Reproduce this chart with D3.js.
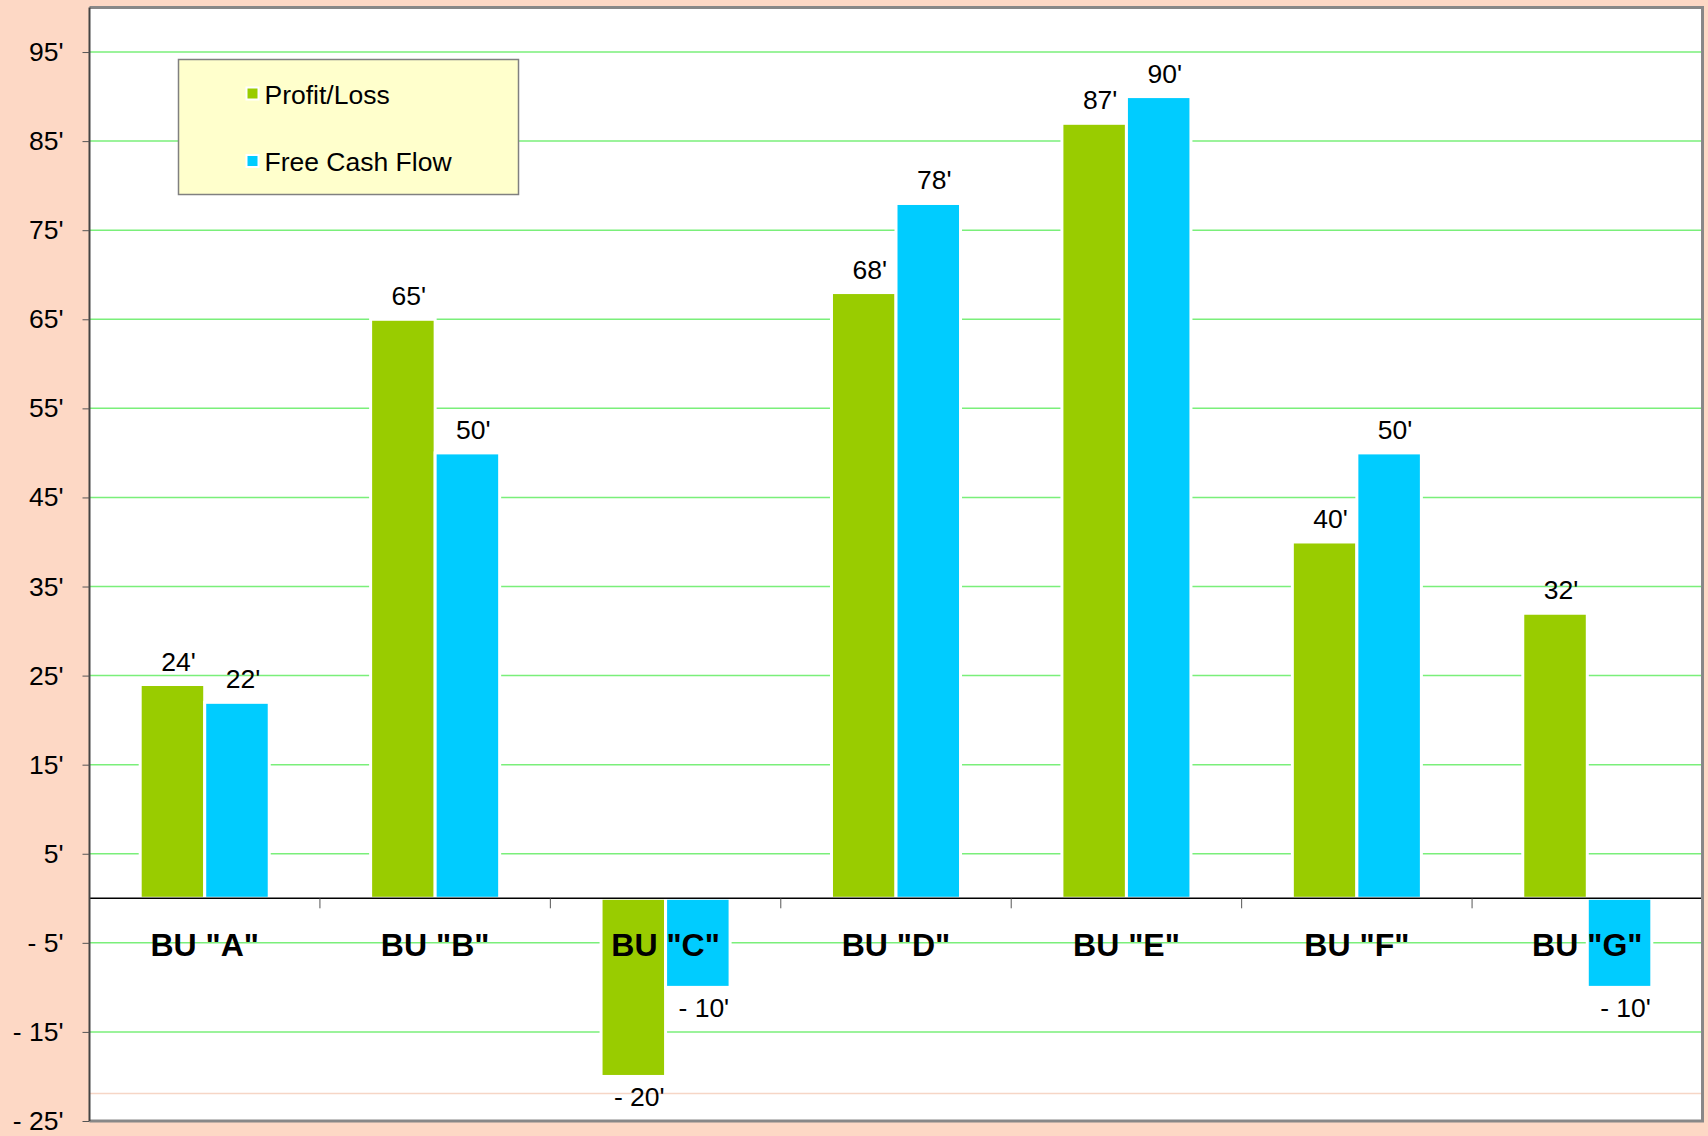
<!DOCTYPE html>
<html>
<head>
<meta charset="utf-8">
<script src="https://cdn.jsdelivr.net/npm/d3@7"></script>
<style>
  html, body { margin: 0; padding: 0; background: #fdd8c5; }
  svg { display: block; }
  text { font-family: "Liberation Sans", Arial, sans-serif; fill: #000; }
</style>
</head>
<body>
<div id="chart"></div>
<script>
// Chart data
const categories = ['BU "A"', 'BU "B"', 'BU "C"', 'BU "D"', 'BU "E"', 'BU "F"', 'BU "G"'];
const seriesNames = ['Profit/Loss', 'Free Cash Flow'];
const profitLoss = [24, 65, -20, 68, 87, 40, 32];
const freeCashFlow = [22, 50, -10, 78, 90, 50, -10];
const yTicks = [95, 85, 75, 65, 55, 45, 35, 25, 15, 5, -5, -15, -25];
const yDomain = [-25, 100];
const peachLineValue = -21.9;

const colors = {
  'Profit/Loss': '#99cc00',
  'Free Cash Flow': '#00ccff'
};

// Layout
const width = 1708;
const height = 1136;
const plot = { left: 89.5, right: 1702.5, top: 7.5, bottom: 1121 };
const textSize = '26.5px';

/**
 * Format values like 95' or - 5'
 */
function fmt(v) {
  return (v < 0 ? '- ' + Math.abs(v) : String(v)) + "'";
}

function drawChart() {
  const svg = d3.select('#chart')
    .append('svg')
    .attr('width', width)
    .attr('height', height);

  // Background
  svg.append('rect')
    .attr('width', width)
    .attr('height', height)
    .style('fill', '#fdd8c5');

  // Scales
  const y = d3.scaleLinear()
    .domain(yDomain)
    .range([plot.bottom, plot.top]);

  const x0 = d3.scaleBand()
    .domain(categories)
    .range([plot.left, plot.right]);

  const bw = x0.bandwidth();
  const x1 = d3.scaleBand()
    .domain(seriesNames)
    .range([bw * 0.22, bw * 0.78]);

  // Plot area
  svg.append('rect')
    .attr('x', plot.left)
    .attr('y', plot.top)
    .attr('width', plot.right - plot.left)
    .attr('height', plot.bottom - plot.top)
    .style('fill', '#ffffff');

  // Gridlines
  svg.selectAll('.grid-line')
    .data(yTicks.filter(d => d > yDomain[0]))
    .enter()
    .append('line')
    .attr('class', 'grid-line')
    .attr('x1', plot.left)
    .attr('x2', plot.right)
    .attr('y1', d => y(d))
    .attr('y2', d => y(d))
    .style('stroke', '#7aef7a')
    .style('stroke-width', '1.5px');

  svg.append('line')
    .attr('x1', plot.left)
    .attr('x2', plot.right)
    .attr('y1', y(peachLineValue))
    .attr('y2', y(peachLineValue))
    .style('stroke', '#f6d6c6')
    .style('stroke-width', '1.5px');

  // Bars
  const rows = categories.map((c, i) => ({
    category: c,
    values: [
      { key: 'Profit/Loss', value: profitLoss[i] },
      { key: 'Free Cash Flow', value: freeCashFlow[i] }
    ]
  }));

  const groups = svg.selectAll('.group')
    .data(rows)
    .enter()
    .append('g')
    .attr('class', 'group')
    .attr('transform', d => `translate(${x0(d.category)},0)`);

  groups.selectAll('rect')
    .data(d => d.values)
    .enter()
    .append('rect')
    .attr('x', d => x1(d.key))
    .attr('y', d => y(Math.max(0, d.value)))
    .attr('width', x1.bandwidth())
    .attr('height', d => Math.abs(y(d.value) - y(0)))
    .style('fill', d => colors[d.key])
    .style('stroke', '#ffffff')
    .style('stroke-width', '3px');

  // Value labels
  groups.selectAll('.value-label')
    .data(d => d.values)
    .enter()
    .append('text')
    .attr('class', 'value-label')
    .attr('x', d => x1(d.key) + x1.bandwidth() / 2 + 6)
    .attr('y', d => d.value >= 0 ? y(d.value) - 14 : y(d.value) + 30)
    .attr('text-anchor', 'middle')
    .style('font-size', textSize)
    .text(d => fmt(d.value));

  // Zero line and category ticks
  svg.append('line')
    .attr('x1', plot.left)
    .attr('x2', plot.right)
    .attr('y1', y(0))
    .attr('y2', y(0))
    .style('stroke', '#000')
    .style('stroke-width', '1.5px');

  svg.selectAll('.cat-tick')
    .data(categories.slice(1))
    .enter()
    .append('line')
    .attr('class', 'cat-tick')
    .attr('x1', d => x0(d))
    .attr('x2', d => x0(d))
    .attr('y1', y(0))
    .attr('y2', y(0) + 10)
    .style('stroke', '#555')
    .style('stroke-width', '1px');

  // Category labels
  svg.selectAll('.cat-label')
    .data(categories)
    .enter()
    .append('text')
    .attr('class', 'cat-label')
    .attr('x', d => x0(d) + bw / 2)
    .attr('y', y(0) + 58)
    .attr('text-anchor', 'middle')
    .style('font-size', '32px')
    .style('font-weight', 'bold')
    .text(d => d);

  // Plot border (gray frame, dark left axis)
  svg.append('path')
    .attr('d', `M${plot.left},${plot.top}H${plot.right}V${plot.bottom}H${plot.left}`)
    .style('fill', 'none')
    .style('stroke', '#888')
    .style('stroke-width', '3px');

  svg.append('line')
    .attr('x1', plot.left)
    .attr('x2', plot.left)
    .attr('y1', plot.top)
    .attr('y2', plot.bottom)
    .style('stroke', '#444')
    .style('stroke-width', '2px');

  // Y axis
  const yAxis = svg.append('g')
    .attr('transform', `translate(${plot.left},0)`)
    .call(d3.axisLeft(y).tickValues(yTicks).tickSize(7).tickPadding(19).tickFormat(fmt));

  yAxis.select('.domain').remove();
  yAxis.selectAll('line').style('stroke', '#555');
  yAxis.selectAll('text')
    .style('font-size', textSize)
    .style('font-family', '"Liberation Sans", Arial, sans-serif')
    .style('fill', '#000');

  // Legend
  const legend = svg.append('g')
    .attr('transform', 'translate(178.5,59.5)');

  legend.append('rect')
    .attr('width', 340)
    .attr('height', 135)
    .style('fill', '#ffffcc')
    .style('stroke', '#808080')
    .style('stroke-width', '1.5px');

  const items = legend.selectAll('.legend-item')
    .data(seriesNames)
    .enter()
    .append('g')
    .attr('class', 'legend-item')
    .attr('transform', (d, i) => `translate(0,${34 + i * 67.5})`);

  items.append('rect')
    .attr('x', 68)
    .attr('y', -6)
    .attr('width', 12)
    .attr('height', 12)
    .style('fill', d => colors[d])
    .style('stroke', '#ffffff')
    .style('stroke-width', '2px');

  items.append('text')
    .attr('x', 86)
    .attr('y', 10)
    .style('font-size', textSize)
    .text(d => d);
}

document.addEventListener('DOMContentLoaded', drawChart);
</script>
</body>
</html>
